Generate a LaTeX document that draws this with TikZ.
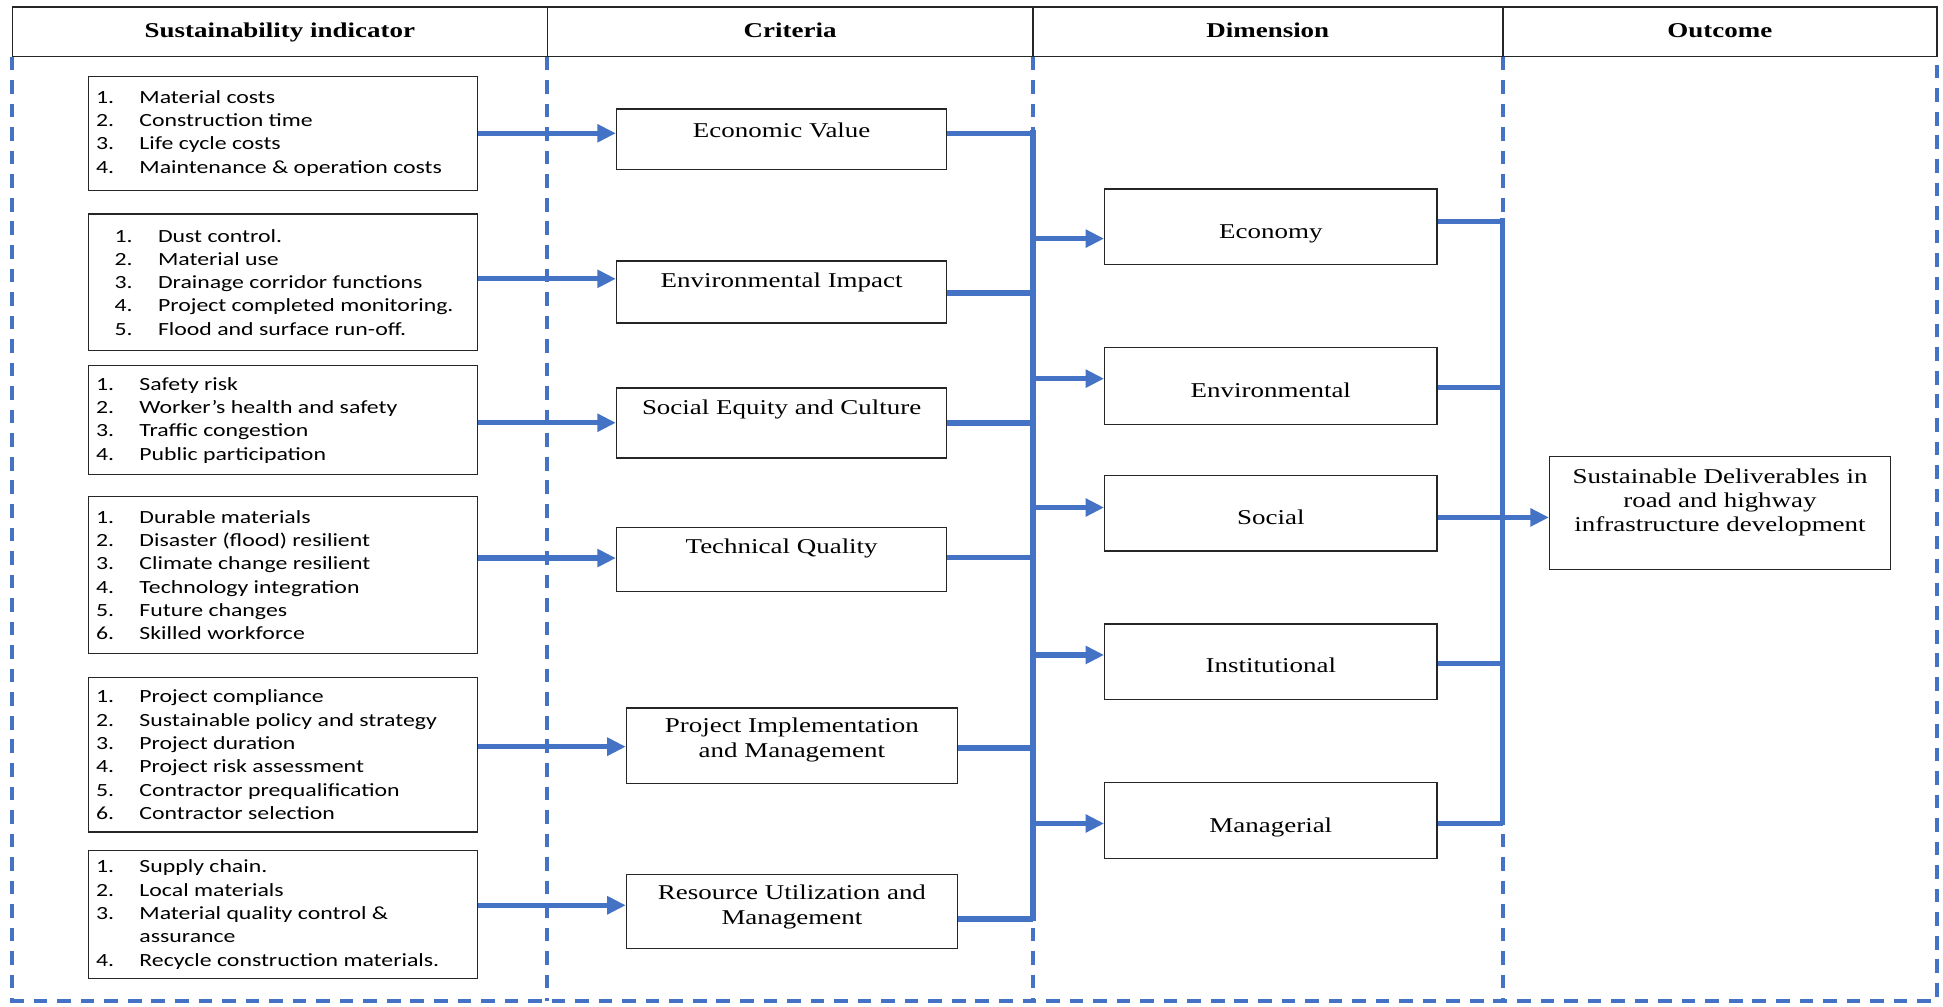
\documentclass[tikz,border=0pt]{standalone}
\usepackage{fontspec}
\setmainfont{Liberation Serif}[FakeStretch=1.28]
\newfontfamily\calib{Carlito}[FakeStretch=1.28]
\usetikzlibrary{arrows.meta,calc}
\definecolor{lineblue}{HTML}{4472C4}
\newcommand{\itm}[2]{\makebox[35pt][l]{#1}#2\par}
\newcommand{\ctext}[4]{\parbox[c][#2pt][t]{#1pt}{\centering\rule{0pt}{#3pt}#4}}
\tikzset{
  dashline/.style={draw=lineblue, line width=3.3pt, dash pattern=on 11pt off 8pt},
  hdrline/.style={draw=black!85, line width=1.3pt},
  hdrtext/.style={font=\bfseries\fontsize{17}{20}\selectfont, anchor=base, inner sep=0pt},
  indbox/.style={draw=black!85, line width=1.1pt, inner xsep=6pt, inner ysep=0pt, anchor=north west, fill=white,
     font=\calib\fontsize{15}{18.8}\selectfont},
  critbox/.style={draw=black!85, line width=1.1pt, inner sep=0pt, anchor=north west, fill=white,
     font=\fontsize{17}{20}\selectfont},
  conn/.style={draw=lineblue, line width=4.3pt},
  arr/.style={conn, -{Triangle[length=15pt,width=14pt]}},
}
\begin{document}
\begin{tikzpicture}[x=1pt,y=-1pt]
\useasboundingbox (0,0) rectangle (1568,812);
% dashed frame
\draw[dashline] (10,45.7) -- (10,807.5) -- (1563,807.5) -- (1563,45.7);
\foreach \xx in {441.7,833.5,1212.7} \draw[dashline] (\xx,45.7) -- (\xx,807.5);
% header
\draw[hdrline, fill=white] (10,5.5) rectangle (1563,45.7);
\foreach \xx in {441.7,833.5,1212.7} \draw[hdrline] (\xx,5.5) -- (\xx,45.7);
\node[hdrtext] (h1) at (225.8,30) {Sustainability indicator};
\node[hdrtext] (h2) at (637.6,30) {Criteria};
\node[hdrtext] (h3) at (1023.1,30) {Dimension};
\node[hdrtext] (h4) at (1387.9,30) {Outcome};

% indicator boxes
\node[indbox, minimum height=92pt] (ind1) at (71,61) {\parbox{302pt}{%
\itm{1.}{Material costs}\itm{2.}{Construction time}\itm{3.}{Life cycle costs}\itm{4.}{Maintenance \& operation costs}}};
\node[indbox, minimum height=110.5pt] (ind2) at (71,172) {\parbox{302pt}{\leftskip=15pt
\itm{1.}{Dust control.}\itm{2.}{Material use}\itm{3.}{Drainage corridor functions}\itm{4.}{Project completed monitoring.}\itm{5.}{Flood and surface run-off.}}};
\node[indbox, minimum height=88pt] (ind3) at (71,294.6) {\parbox{302pt}{%
\itm{1.}{Safety risk}\itm{2.}{Worker’s health and safety}\itm{3.}{Traffic congestion}\itm{4.}{Public participation}}};
\node[indbox, minimum height=127pt] (ind4) at (71,400) {\parbox{302pt}{%
\itm{1.}{Durable materials}\itm{2.}{Disaster (flood) resilient}\itm{3.}{Climate change resilient}\itm{4.}{Technology integration}\itm{5.}{Future changes}\itm{6.}{Skilled workforce}}};
\node[indbox, minimum height=125pt] (ind5) at (71,546) {\parbox{302pt}{%
\itm{1.}{Project compliance}\itm{2.}{Sustainable policy and strategy}\itm{3.}{Project duration}\itm{4.}{Project risk assessment}\itm{5.}{Contractor prequalification}\itm{6.}{Contractor selection}}};
\node[indbox, minimum height=103pt] (ind6) at (71,686) {\parbox{302pt}{%
\itm{1.}{Supply chain.}\itm{2.}{Local materials}\itm{3.}{Material quality control \&}\itm{}{assurance}\itm{4.}{Recycle construction materials.}}};

% criteria boxes
\node[critbox] (crit1) at (497,87.4) {\ctext{266.5}{48.6}{23}{Economic Value}};
\node[critbox] (crit2) at (497,210) {\ctext{266.5}{50}{21.5}{Environmental Impact}};
\node[critbox] (crit3) at (497,312.6) {\ctext{266.5}{56.4}{21}{Social Equity and Culture}};
\node[critbox] (crit4) at (497,425) {\ctext{266.5}{52}{21.5}{Technical Quality}};
\node[critbox] (crit5) at (505,570.7) {\ctext{267}{61}{20}{Project Implementation\\and Management}};
\node[critbox] (crit6) at (505,705) {\ctext{267}{60}{20.5}{Resource Utilization and\\Management}};

% dimension boxes
\node[critbox] (dim1) at (891,152) {\ctext{268}{61}{40}{Economy}};
\node[critbox] (dim2) at (891,280) {\ctext{268}{62}{40}{Environmental}};
\node[critbox] (dim3) at (891,383) {\ctext{268}{61}{39.5}{Social}};
\node[critbox] (dim4) at (891,503) {\ctext{268}{61}{39.5}{Institutional}};
\node[critbox] (dim5) at (891,631) {\ctext{268}{61}{40}{Managerial}};

% outcome
\node[critbox, font=\fontsize{17}{19.5}\selectfont] (out) at (1250,368) {\ctext{275}{91}{21.5}{Sustainable Deliverables in\\road and highway\\infrastructure development}};

% indicator -> criteria
\draw[arr] (ind1.east) -- (ind1.east -| crit1.west);
\draw[arr] ([yshift=2.8pt]ind2.east) -- ([yshift=2.8pt]ind2.east -| crit2.west);
\draw[arr] ([yshift=-2pt]ind3.east) -- ([yshift=-2pt]ind3.east -| crit3.west);
\draw[arr] ([yshift=13.7pt]ind4.east) -- ([yshift=13.7pt]ind4.east -| crit4.west);
\draw[arr] ([yshift=6.5pt]ind5.east) -- ([yshift=6.5pt]ind5.east -| crit5.west);
\draw[arr] ([yshift=7.5pt]ind6.east) -- ([yshift=7.5pt]ind6.east -| crit6.west);

% criteria -> left bus
\coordinate (busLtop) at (833.5,105);
\coordinate (busLbot) at (833.5,743);
\draw[conn] (busLtop) -- (busLbot);
\draw[conn] ([yshift=4.7pt]crit1.east) -- ([yshift=4.7pt]crit1.east -| busLtop);
\draw[conn] ([yshift=-1pt]crit2.east) -- ([yshift=-1pt]crit2.east -| busLtop);
\draw[conn] (crit3.east) -- (crit3.east -| busLtop);
\draw[conn] ([yshift=1.4pt]crit4.east) -- ([yshift=1.4pt]crit4.east -| busLtop);
\draw[conn] ([yshift=-1.8pt]crit5.east) -- ([yshift=-1.8pt]crit5.east -| busLtop);
\draw[conn] ([yshift=-6pt]crit6.east) -- ([yshift=-6pt]crit6.east -| busLtop);

% left bus -> dimensions
\draw[arr] ([yshift=-9.5pt]dim1.west -| busLtop) -- ([yshift=-9.5pt]dim1.west);
\draw[arr] ([yshift=6pt]dim2.west -| busLtop) -- ([yshift=6pt]dim2.west);
\draw[arr] ([yshift=4.5pt]dim3.west -| busLtop) -- ([yshift=4.5pt]dim3.west);
\draw[arr] ([yshift=5.5pt]dim4.west -| busLtop) -- ([yshift=5.5pt]dim4.west);
\draw[arr] ([yshift=-2.5pt]dim5.west -| busLtop) -- ([yshift=-2.5pt]dim5.west);

% dimensions -> right bus
\coordinate (busRtop) at (1212.7,176);
\coordinate (busRbot) at (1212.7,666);
\draw[conn] (busRtop) -- (busRbot);
\draw[conn] ([yshift=4.5pt]dim1.east) -- ([yshift=4.5pt]dim1.east -| busRtop);
\draw[conn] ([yshift=-1pt]dim2.east) -- ([yshift=-1pt]dim2.east -| busRtop);
\draw[conn] ([yshift=-3.5pt]dim3.east) -- ([yshift=-3.5pt]dim3.east -| busRtop);
\draw[conn] ([yshift=-1.5pt]dim4.east) -- ([yshift=-1.5pt]dim4.east -| busRtop);
\draw[conn] ([yshift=-2.5pt]dim5.east) -- ([yshift=-2.5pt]dim5.east -| busRtop);
\draw[arr] ([yshift=-3.5pt]dim3.east -| busRtop) -- ([yshift=-3.5pt]dim3.east -| out.west);
\end{tikzpicture}
\end{document}
